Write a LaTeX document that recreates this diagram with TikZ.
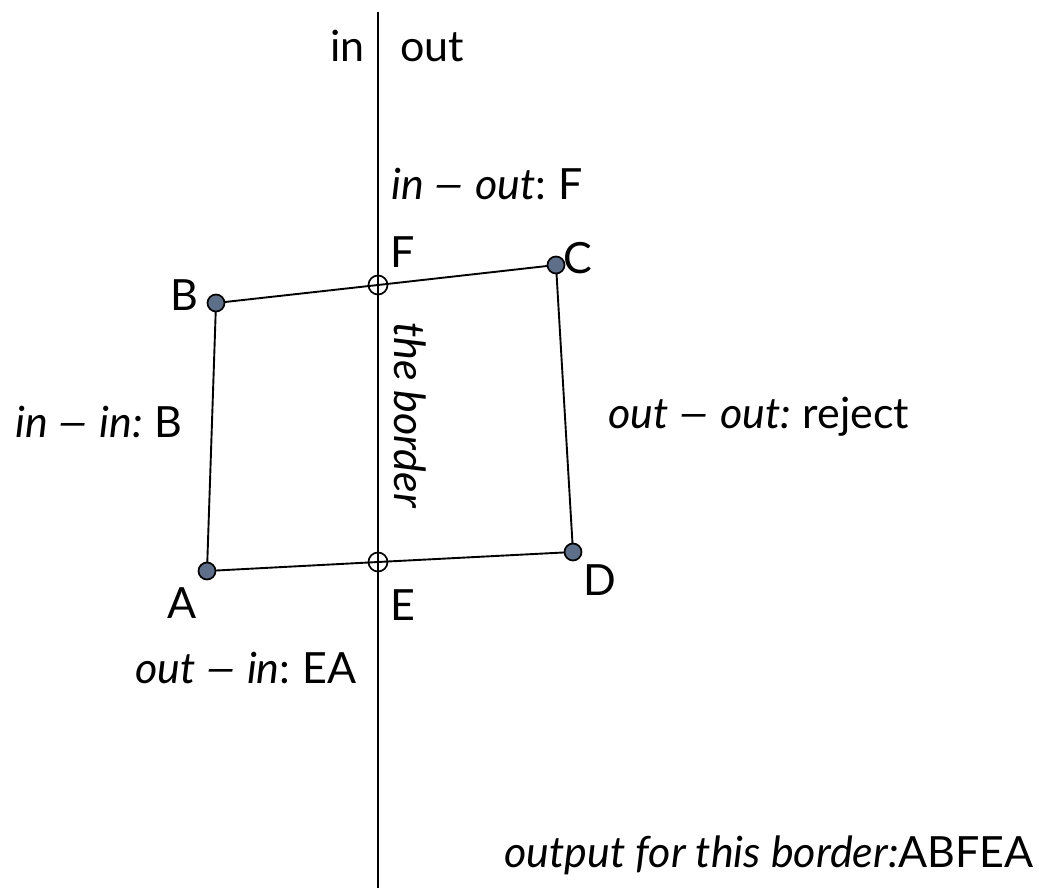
\documentclass[tikz,border=0pt]{standalone}
\usepackage{fontspec}
\usepackage{graphicx}
\setmainfont{Lato}
\definecolor{dotfill}{HTML}{5E6F8A}
\newcommand{\wdash}{\kern-3pt\scalebox{1.5}[1]{--}\kern-3pt}
\begin{document}
\begin{tikzpicture}[x=1pt,y=1pt,
  lbl/.style={inner sep=0pt,font=\fontsize{43}{50}\selectfont},
  edge/.style={line width=1.9pt,black},
  vdot/.style={circle,draw=black,line width=1.7pt,fill=dotfill,minimum size=17pt,inner sep=0pt},
  xpt/.style={circle,draw=black,line width=1.7pt,minimum size=19pt,inner sep=0pt}]
\useasboundingbox (0,0) rectangle (1039,-888);
% border
\coordinate (top) at (378,-12);
\coordinate (bot) at (378,-888);
\draw[edge] (top) -- (bot);
% polygon points
\coordinate (pA) at (207,-571);
\coordinate (pB) at (216,-303);
\coordinate (pC) at (556,-265);
\coordinate (pD) at (573,-552);
\coordinate (pE) at (378,-562);
\coordinate (pF) at (378,-285);
\draw[edge] (pA) -- (pB);
\draw[edge] (pB) -- (pF) -- (pC);
\draw[edge] (pC) -- (pD);
\draw[edge] (pD) -- (pE) -- (pA);
\node[vdot] (A) at (pA) {};
\node[vdot] (B) at (pB) {};
\node[vdot] (C) at (pC) {};
\node[vdot] (D) at (pD) {};
\node[xpt] (E) at (pE) {};
\node[xpt] (F) at (pF) {};
% labels
\node[lbl,anchor=base east] (tin) at (365,-62) {in};
\node[lbl,anchor=base west] (tout) at (400,-62) {out};
\node[lbl,anchor=base west] (tio) at (391,-200) {\textit{in \wdash{} out}:\kern-3pt{} F};
\node[lbl,anchor=base west] (lF) at (390,-267) {F};
\node[lbl,anchor=base west] (lC) at (563,-273) {C};
\node[lbl,anchor=base east] (lB) at (198,-310) {B};
\node[lbl,anchor=base west,rotate=-90] (tb) at (394,-322) {\textit{the border}};
\node[lbl,anchor=base west] (tii) at (15,-437) {\textit{in \wdash{} in:}\kern-3pt{} B};
\node[lbl,anchor=base west] (too) at (608,-428) {\textit{out \wdash{} out:}\kern-3pt{} reject};
\node[lbl,anchor=base west] (lA) at (167,-618) {A};
\node[lbl,anchor=base west] (lE) at (390,-620) {E};
\node[lbl,anchor=base west] (lD) at (583,-595) {D};
\node[lbl,anchor=base west] (toi) at (135,-683) {\textit{out \wdash{} in}:\kern-3pt{} EA};
\node[lbl,anchor=base east] (tres) at (1034,-867) {\textit{output for this border:}ABFEA};
\end{tikzpicture}
\end{document}
